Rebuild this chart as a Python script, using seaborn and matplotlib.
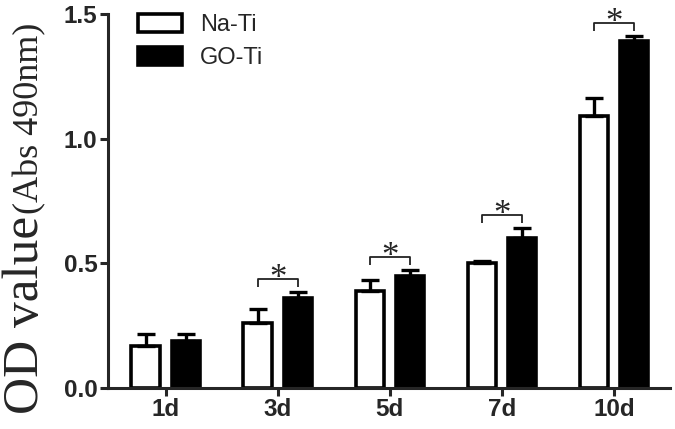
import numpy as np
import pandas as pd
import matplotlib
matplotlib.use('Agg')
import matplotlib.pyplot as plt
import seaborn as sns

# Dados
dias = ['1d', '3d', '5d', '7d', '10d']
grupos = ['Na-Ti', 'GO-Ti']
na_ti = [0.17, 0.26, 0.39, 0.50, 1.09]
na_ti_err = [0.048, 0.055, 0.045, 0.008, 0.075]
go_ti = [0.19, 0.36, 0.45, 0.60, 1.39]
go_ti_err = [0.026, 0.026, 0.024, 0.042, 0.022]
signif = ['', '*', '*', '*', '*']

df = pd.DataFrame({
    'dia': dias * 2,
    'grupo': [grupos[0]] * 5 + [grupos[1]] * 5,
    'od': na_ti + go_ti,
    'err': na_ti_err + go_ti_err,
})

sns.set_style('ticks')
plt.rcParams['font.family'] = ['Liberation Sans', 'DejaVu Sans']
serif = ['Liberation Serif', 'DejaVu Serif']

fig = plt.figure(figsize=(6.75, 4.29), dpi=100)
ax = fig.add_axes([0.16, 0.0956, 0.8326, 0.8718])

sns.barplot(data=df, x='dia', y='od', hue='grupo', order=dias, hue_order=grupos,
            palette=['white', 'black'], edgecolor='black', linewidth=2.6,
            width=0.72, gap=0.3, errorbar=None, ax=ax)

# barras de erro (apenas para cima), a partir das posições das barras
centros = {}
for patch, (_, row) in zip(ax.patches, df.iterrows()):
    xc = patch.get_x() + patch.get_width() / 2
    centros[(row['dia'], row['grupo'])] = xc
    ax.errorbar(xc, row['od'], yerr=[[0], [row['err']]], fmt='none',
                ecolor='black', elinewidth=2.4, capsize=6.5, capthick=2.4, zorder=1)

# colchetes de significância
for i, d in enumerate(dias):
    if not signif[i]:
        continue
    x1 = centros[(d, 'Na-Ti')]
    x2 = centros[(d, 'GO-Ti')]
    topo = max(na_ti[i] + na_ti_err[i], go_ti[i] + go_ti_err[i])
    yb = topo + 0.052
    ax.plot([x1, x1, x2, x2], [yb - 0.034, yb, yb, yb - 0.034],
            color='#222222', lw=1.3, solid_capstyle='butt')
    ax.text((x1 + x2) / 2, yb - 0.036, signif[i], ha='center', va='baseline',
            fontsize=25, family=serif)

ax.set_xlim(-0.515, 4.5)
ax.set_ylim(0, 1.5)
ax.set_yticks([0.0, 0.5, 1.0, 1.5])
ax.set_yticklabels(['0.0', '0.5', '1.0', '1.5'])
ax.set_xlabel('')
ax.set_ylabel('')
for lbl in ax.get_xticklabels() + ax.get_yticklabels():
    lbl.set_fontweight('bold')
ax.tick_params(axis='both', labelsize=17.5, width=2.2, length=6, pad=1.5)
sns.despine(ax=ax)
for s in ['left', 'bottom']:
    ax.spines[s].set_linewidth(2.2)

# legenda
leg = ax.legend(loc='upper left', bbox_to_anchor=(0.037, 1.025), frameon=False,
                fontsize=17, handlelength=1.85, handleheight=0.8,
                handletextpad=0.75, labelspacing=0.45, borderaxespad=0)

# rótulo do eixo y em fonte serif, dois tamanhos
t1 = fig.text(38 / 675, 1 - 414 / 429, 'OD value', rotation=90, rotation_mode='anchor',
              ha='left', va='baseline', fontsize=37, family=serif)
fig.canvas.draw()
bb = t1.get_window_extent().transformed(fig.transFigure.inverted())
fig.text(38 / 675, bb.y1 + 0.004, '(Abs 490nm)', rotation=90, rotation_mode='anchor',
         ha='left', va='baseline', fontsize=26, family=serif)

plt.savefig('out.png', dpi=100, facecolor='white')
plt.close()
